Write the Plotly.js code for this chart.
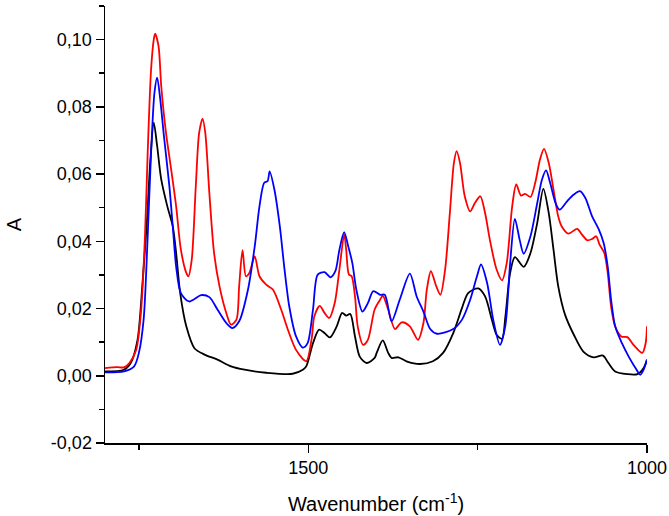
<!DOCTYPE html>
<html>
<head>
<meta charset="utf-8">
<script src="https://cdn.plot.ly/plotly-3.0.1.min.js"></script>
<style>html,body{margin:0;padding:0;background:#fff;}#chart{width:669px;height:516px;}</style>
</head>
<body>
<div id="chart"></div>
<script>
// Black spectrum
const blackWn = [1800,1772,1762,1752,1745,1738,1733,1728,1723,1717,1708,1700,1695,1689,1680,1668,1653,1634,1614,1594,1562,1523,1508,1503,1493,1484,1476,1468,1458,1450,1444,1438,1431,1424,1414,1402,1399,1390,1382,1377,1367,1355,1335,1316,1301,1286,1273,1264,1249,1239,1229,1222,1214,1209,1202,1195,1182,1172,1162,1153,1145,1138,1131,1121,1108,1094,1079,1065,1057,1047,1029,1014,1005,1000];
const blackA = [0.0013,0.0018,0.0038,0.0107,0.0266,0.0465,0.0643,0.0753,0.0683,0.0584,0.0504,0.0445,0.0365,0.0246,0.0147,0.0082,0.0063,0.0048,0.0028,0.0018,0.0009,0.0006,0.0018,0.0028,0.0097,0.0137,0.0127,0.0114,0.0147,0.0187,0.0179,0.0184,0.0117,0.0057,0.0038,0.0053,0.0068,0.0105,0.0068,0.0053,0.0055,0.0043,0.0035,0.0043,0.0068,0.0127,0.0202,0.0246,0.0260,0.0236,0.0167,0.0122,0.0110,0.0177,0.0306,0.0353,0.0324,0.0365,0.0455,0.0556,0.0484,0.0375,0.0266,0.0182,0.0122,0.0072,0.0055,0.0060,0.0038,0.0013,0.0005,0.0005,0.0023,0.0048];

// Blue spectrum
const blueWn = [1800,1772,1757,1750,1743,1737,1732,1727,1723,1719,1713,1705,1700,1695,1688,1676,1658,1646,1634,1621,1612,1602,1589,1579,1572,1565,1560,1557,1550,1542,1535,1528,1518,1508,1501,1493,1486,1476,1467,1460,1454,1447,1441,1435,1429,1420,1412,1404,1394,1387,1377,1365,1350,1340,1330,1320,1310,1286,1273,1261,1251,1245,1236,1227,1217,1209,1202,1195,1188,1182,1172,1162,1155,1149,1143,1135,1129,1118,1108,1099,1091,1081,1071,1064,1058,1053,1047,1037,1027,1017,1010,1005,1000];
const blueA = [0.0010,0.0013,0.0028,0.0068,0.0167,0.0415,0.0663,0.0842,0.0887,0.0832,0.0713,0.0564,0.0445,0.0325,0.0246,0.0221,0.0240,0.0234,0.0197,0.0157,0.0142,0.0162,0.0256,0.0385,0.0504,0.0574,0.0579,0.0608,0.0554,0.0445,0.0316,0.0206,0.0117,0.0084,0.0097,0.0197,0.0301,0.0308,0.0293,0.0311,0.0375,0.0427,0.0385,0.0336,0.0256,0.0191,0.0216,0.0252,0.0241,0.0241,0.0162,0.0226,0.0304,0.0236,0.0191,0.0139,0.0125,0.0139,0.0167,0.0226,0.0296,0.0331,0.0276,0.0167,0.0092,0.0150,0.0336,0.0467,0.0405,0.0363,0.0415,0.0514,0.0584,0.0611,0.0574,0.0514,0.0494,0.0519,0.0539,0.0549,0.0529,0.0474,0.0435,0.0395,0.0325,0.0226,0.0147,0.0097,0.0057,0.0023,0.0003,0.0018,0.0048];

// Red spectrum
const redWn = [1800,1782,1772,1764,1754,1747,1741,1737,1732,1728,1726,1721,1717,1710,1703,1695,1688,1680,1677,1672,1666,1661,1656,1652,1646,1639,1631,1621,1614,1606,1602,1597,1592,1587,1579,1572,1562,1552,1540,1530,1518,1503,1495,1491,1483,1476,1469,1461,1454,1447,1444,1440,1436,1431,1427,1419,1412,1402,1394,1390,1382,1372,1362,1350,1338,1330,1325,1319,1311,1305,1298,1291,1285,1281,1276,1269,1261,1254,1246,1239,1232,1222,1214,1207,1199,1193,1186,1180,1172,1165,1158,1152,1145,1138,1131,1126,1116,1103,1096,1088,1081,1075,1070,1063,1058,1053,1047,1038,1029,1020,1007,1002,1000];
const redA = [0.0023,0.0026,0.0025,0.0038,0.0077,0.0187,0.0415,0.0663,0.0911,0.1001,0.1018,0.0981,0.0862,0.0723,0.0623,0.0504,0.0375,0.0306,0.0296,0.0345,0.0564,0.0723,0.0765,0.0723,0.0544,0.0365,0.0266,0.0187,0.0152,0.0167,0.0266,0.0374,0.0296,0.0306,0.0355,0.0296,0.0271,0.0256,0.0197,0.0137,0.0077,0.0043,0.0110,0.0177,0.0208,0.0187,0.0172,0.0216,0.0316,0.0420,0.0375,0.0301,0.0296,0.0236,0.0147,0.0092,0.0107,0.0197,0.0226,0.0238,0.0197,0.0139,0.0159,0.0147,0.0107,0.0157,0.0256,0.0311,0.0266,0.0241,0.0316,0.0484,0.0633,0.0668,0.0633,0.0534,0.0489,0.0514,0.0534,0.0484,0.0405,0.0316,0.0284,0.0336,0.0504,0.0569,0.0536,0.0541,0.0532,0.0574,0.0643,0.0675,0.0633,0.0554,0.0474,0.0445,0.0423,0.0437,0.0420,0.0403,0.0407,0.0415,0.0390,0.0365,0.0306,0.0206,0.0147,0.0117,0.0115,0.0092,0.0068,0.0097,0.0147];

const yTickVals = [-0.02, 0, 0.02, 0.04, 0.06, 0.08, 0.10];
const yTickText = ['-0,02', '0,00', '0,02', '0,04', '0,06', '0,08', '0,10'];
const xTickVals = [1500, 1000];
const xTickText = ['1500', '1000'];

function tr(x, y, color) {
  return {x: x, y: y, type: 'scatter', mode: 'lines',
    line: {color: color, width: 1.8, shape: 'spline', smoothing: 0.8},
    hoverinfo: 'skip', showlegend: false};
}

const data = [tr(blackWn, blackA, '#000000'), tr(redWn, redA, '#ff0000'), tr(blueWn, blueA, '#0000ff')];

const font = {family: '"Liberation Sans", Arial, sans-serif', color: '#000', size: 18};
const layout = {
  width: 669, height: 516,
  margin: {l: 105, r: 22, t: 6, b: 73, pad: 0},
  paper_bgcolor: '#fff', plot_bgcolor: '#fff',
  font: font,
  showlegend: false,
  xaxis: {
    range: [1800, 1000], showgrid: false, zeroline: false,
    showline: true, linecolor: '#000', linewidth: 1.5, mirror: false,
    ticks: 'outside', ticklen: 8, tickwidth: 1.5, tickcolor: '#000',
    tickmode: 'array', tickvals: xTickVals, ticktext: xTickText,
    tickfont: {size: 18},
    minor: {tickmode: 'linear', tick0: 1000, dtick: 250, ticks: 'outside', ticklen: 5, tickwidth: 1.5, tickcolor: '#000'},
    title: {text: 'Wavenumber (cm<sup>-1</sup>)', font: {size: 20}, standoff: 20}
  },
  yaxis: {
    range: [-0.02, 0.11], showgrid: false, zeroline: false,
    showline: true, linecolor: '#000', linewidth: 1.5, mirror: false,
    ticks: 'outside', ticklen: 8, tickwidth: 1.5, tickcolor: '#000',
    tickmode: 'array', tickvals: yTickVals, ticktext: yTickText,
    tickfont: {size: 18},
    minor: {tickmode: 'linear', tick0: 0, dtick: 0.01, ticks: 'outside', ticklen: 5, tickwidth: 1.5, tickcolor: '#000'},
    title: {text: 'A', font: {size: 20}, standoff: 24}
  }
};

Plotly.newPlot('chart', data, layout, {displayModeBar: false, staticPlot: true});
</script>
</body>
</html>
